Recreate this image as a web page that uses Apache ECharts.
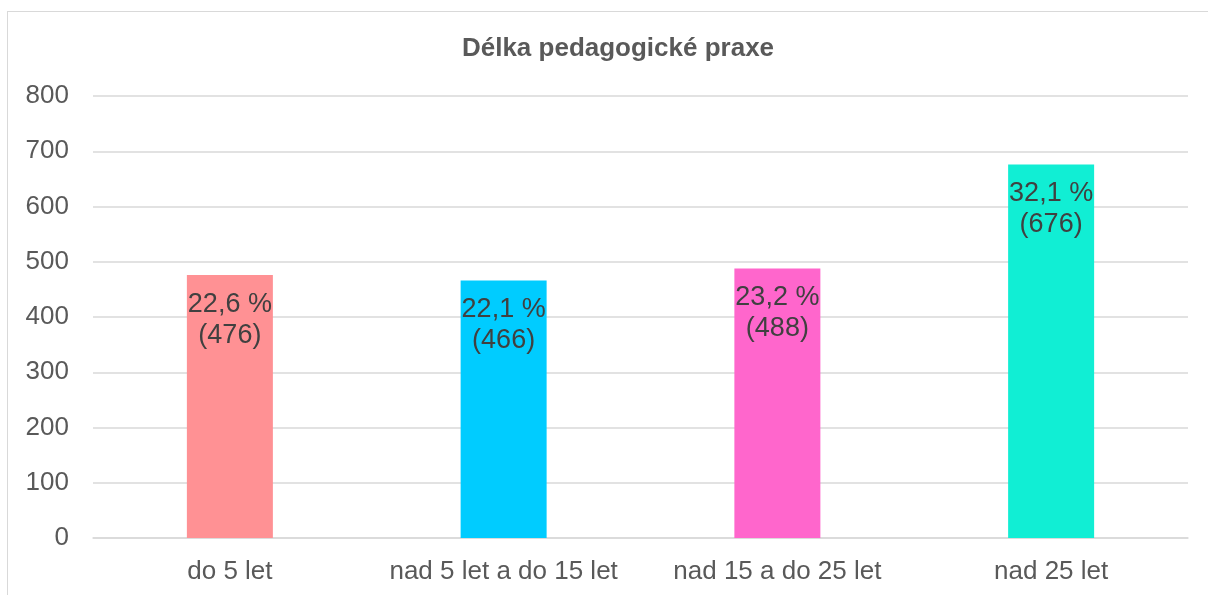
<!DOCTYPE html>
<html>
<head>
<meta charset="utf-8">
<script src="https://cdn.jsdelivr.net/npm/echarts@6/dist/echarts.min.js"></script>
<style>
  html, body { margin: 0; padding: 0; background: #fff; }
  #frame { position: absolute; left: 7px; top: 11px; width: 1220px; height: 600px; border: 1px solid #d9d9d9; }
  #chart { position: absolute; left: 0; top: 0; width: 1208px; height: 595px; }
</style>
</head>
<body>
<div id="frame"></div>
<div id="chart"></div>
<script>
const categories = ['do 5 let', 'nad 5 let a do 15 let', 'nad 15 a do 25 let', 'nad 25 let']
const counts = [476, 466, 488, 676]
const percents = ['22,6', '22,1', '23,2', '32,1']
const barColors = ['#ff9194', '#00ccff', '#ff66cc', '#11eed4']
const yTicks = { min: 0, max: 800, interval: 100 }

const chart = echarts.init(document.getElementById('chart'))
chart.setOption({
  animation: false,
  textStyle: { fontFamily: 'Liberation Sans, Arial, sans-serif' },
  title: {
    text: 'Délka pedagogické praxe',
    left: 613,
    top: 31,
    textAlign: 'center',
    textStyle: { fontSize: 26, fontWeight: 'bold', color: '#595959', fontFamily: 'Liberation Sans, Arial, sans-serif' }
  },
  grid: { left: 93, right: 20, top: 96, bottom: 57, containLabel: false },
  xAxis: {
    type: 'category',
    data: categories,
    axisTick: { show: false },
    axisLine: { lineStyle: { color: '#d9d9d9', width: 1.5 } },
    axisLabel: { color: '#595959', fontSize: 26, margin: 21, interval: 0 }
  },
  yAxis: {
    type: 'value',
    min: yTicks.min,
    max: yTicks.max,
    interval: yTicks.interval,
    axisLine: { show: false },
    axisTick: { show: false },
    axisLabel: { color: '#595959', fontSize: 26, margin: 24 },
    splitLine: { lineStyle: { color: '#d9d9d9', width: 1.5 } }
  },
  series: [{
    type: 'bar',
    barWidth: 86,
    data: counts.map((v, i) => ({ value: v, itemStyle: { color: barColors[i] } })),
    label: {
      show: true,
      position: 'insideTop',
      distance: 14,
      color: '#404040',
      fontSize: 27,
      lineHeight: 31,
      formatter: p => percents[p.dataIndex] + ' %\n(' + p.value + ')'
    }
  }]
})
</script>
</body>
</html>
